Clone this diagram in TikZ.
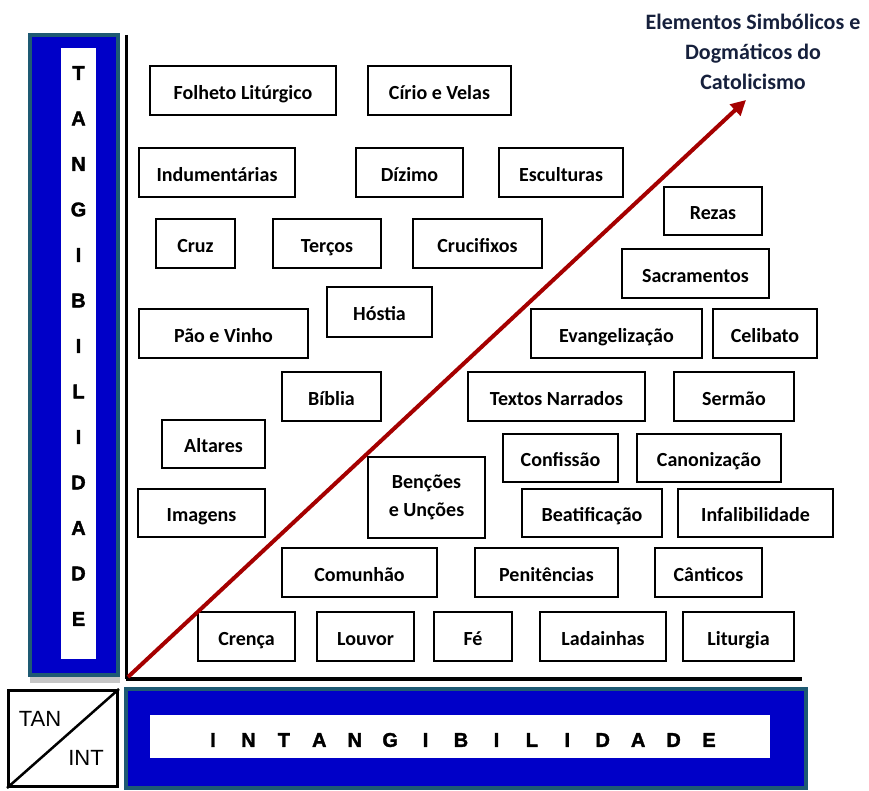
\documentclass[tikz,border=0pt]{standalone}
\usepackage{fontspec}
\setmainfont{Carlito}
\newfontfamily\lsans{Liberation Sans}
\newfontfamily\lsansheavy[FakeBold=1.6]{Liberation Sans Bold}
\usetikzlibrary{arrows.meta}
\definecolor{barblue}{RGB}{0,0,200}
\definecolor{barteal}{RGB}{30,90,115}
\definecolor{arrowred}{RGB}{165,0,0}
\definecolor{titlenavy}{RGB}{22,32,60}
\tikzset{
  box/.style={draw=black, line width=2pt, fill=white, inner sep=0pt, align=center,
    font=\bfseries\fontsize{20}{28}\selectfont},
  onebox/.style={box, text height=17.5pt, text depth=0pt},
  barletter/.style={font=\lsansheavy\fontsize{20}{20}\selectfont, inner sep=0pt},
  outerbar/.style={fill=barblue, draw=barteal, line width=4pt},
  innerstrip/.style={fill=white, draw=none},
  axis/.style={draw=black},
}
\newcommand\bx[6]{\node[onebox, minimum width=#4pt, minimum height=#5pt] (#1) at (#2,#3) {#6};}
\begin{document}
\begin{tikzpicture}[x=1pt,y=-1pt]
\useasboundingbox (0,0) rectangle (869,791);
% left bar
\fill[gray!45] (30,676) rectangle (120,683);
\draw[outerbar] (30,35) rectangle (118,675);
\fill[innerstrip] (61,48) rectangle (96,659);
\foreach \l [count=\i] in {T,A,N,G,I,B,I,L,I,D,A,D,E}
  \node[barletter] (v\i) at (78.5,{73+(\i-1)*45.5}) {\l};
% bottom bar
\draw[outerbar] (126,689) rectangle (806,788);
\fill[innerstrip] (150,715) rectangle (770,758);
\foreach \l [count=\i] in {I,N,T,A,N,G,I,B,I,L,I,D,A,D,E}
  \node[barletter] (h\i) at ({213+(\i-1)*35.43},740) {\l};
% TAN / INT box
\node[draw=black, line width=3pt, minimum width=109pt, minimum height=96pt, inner sep=0pt] (ti) at (63,738.5) {};
\draw[line width=2.5pt] (ti.south west) -- (ti.north east);
\node[font=\lsans\fontsize{22}{22}\selectfont, inner sep=0pt] (tan) at (40,719) {TAN};
\node[font=\lsans\fontsize{22}{22}\selectfont, inner sep=0pt] (int) at (86,758) {INT};
% axes
\coordinate (ytop) at (126,35);
\coordinate (orig) at (126,679);
\coordinate (xend) at (802,679);
\draw[axis, line width=3pt] (ytop) -- (orig);
\draw[axis, line width=4.5pt] (orig) -- (xend);
% boxes
\bx{folheto}{243}{90.5}{186}{49}{Folheto Litúrgico}
\bx{cirio}{439.5}{90.5}{143}{49}{Círio e Velas}
\bx{indum}{217}{172.5}{156}{49}{Indumentárias}
\bx{dizimo}{409.5}{172.5}{107}{49}{Dízimo}
\bx{escult}{561}{172.5}{124}{49}{Esculturas}
\bx{cruz}{195.5}{243.5}{79}{49}{Cruz}
\bx{tercos}{327}{243.5}{108}{49}{Terços}
\bx{crucif}{477.5}{243.5}{129}{49}{Crucifixos}
\bx{hostia}{379.5}{312}{105}{50}{Hóstia}
\bx{pao}{223.5}{333.5}{169}{49}{Pão e Vinho}
\bx{rezas}{713}{211}{98}{48}{Rezas}
\bx{sacram}{695.5}{273.5}{147}{49}{Sacramentos}
\bx{evang}{616.5}{333.5}{171}{49}{Evangelização}
\bx{celib}{765}{333.5}{104}{49}{Celibato}
\bx{textos}{556.5}{396.5}{177}{49}{Textos Narrados}
\bx{sermao}{734}{396.5}{120}{49}{Sermão}
\bx{biblia}{331.5}{396.5}{99}{49}{Bíblia}
\bx{altares}{213.5}{444}{103}{48}{Altares}
\bx{imagens}{201.5}{513}{127}{48}{Imagens}
\node[box, minimum width=117pt, minimum height=81pt] (bencoes) at (426.5,497.5) {Benções\\e Unções};
\bx{comunhao}{359.5}{572.5}{155}{49}{Comunhão}
\bx{crenca}{246.5}{636.5}{97}{49}{Crença}
\bx{louvor}{365.5}{636.5}{97}{49}{Louvor}
\bx{fe}{473}{636.5}{78}{49}{Fé}
\bx{confissao}{560.5}{458}{115}{48}{Confissão}
\bx{canon}{709}{458}{144}{48}{Canonização}
\bx{beatif}{592}{513}{140}{48}{Beatificação}
\bx{infal}{755.5}{513}{155}{48}{Infalibilidade}
\bx{penit}{546.5}{572.5}{143}{49}{Penitências}
\bx{cantic}{708.5}{572.5}{107}{49}{Cânticos}
\bx{ladain}{603}{636.5}{126}{49}{Ladainhas}
\bx{liturg}{738.5}{636.5}{111}{49}{Liturgia}
% arrow
\coordinate (atip) at (746,100);
\coordinate (astart) at (128,677);
\draw[arrowred, line width=4pt, -{Triangle[length=15pt,width=15pt]}] (astart) -- (atip);
% title
\node[font=\bfseries\fontsize{22}{30}\selectfont, text=titlenavy, align=center, inner sep=0pt] (title) at (753,52) {Elementos Simbólicos e\\Dogmáticos do\\Catolicismo};
\end{tikzpicture}
\end{document}
